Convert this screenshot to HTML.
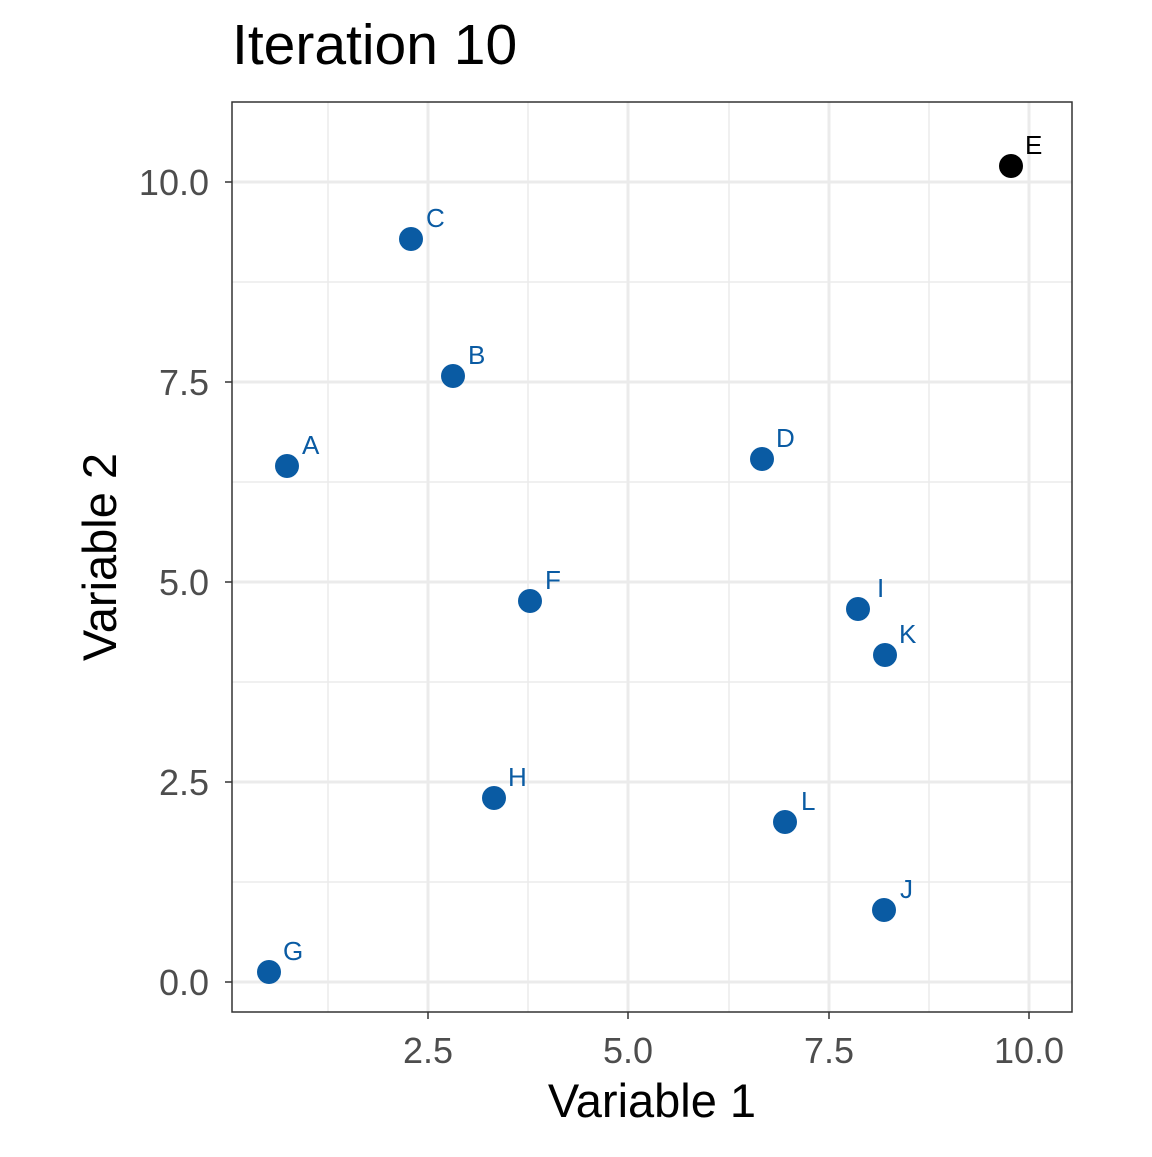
<!DOCTYPE html>
<html><head><style>body{margin:0;background:#fff}</style></head><body>
<svg width="1152" height="1152" xmlns="http://www.w3.org/2000/svg" font-family="Liberation Sans, Arial, sans-serif">
<rect width="1152" height="1152" fill="#fff"/>
<g stroke="#ebebeb" stroke-width="1.5">
<line x1="328" y1="102" x2="328" y2="1012"/><line x1="528" y1="102" x2="528" y2="1012"/><line x1="729" y1="102" x2="729" y2="1012"/><line x1="929" y1="102" x2="929" y2="1012"/>
<line x1="232" y1="282" x2="1072" y2="282"/><line x1="232" y1="482" x2="1072" y2="482"/><line x1="232" y1="682" x2="1072" y2="682"/><line x1="232" y1="882" x2="1072" y2="882"/>
</g>
<g stroke="#ebebeb" stroke-width="3">
<line x1="428" y1="102" x2="428" y2="1012"/><line x1="628" y1="102" x2="628" y2="1012"/><line x1="829" y1="102" x2="829" y2="1012"/><line x1="1029" y1="102" x2="1029" y2="1012"/>
<line x1="232" y1="182" x2="1072" y2="182"/><line x1="232" y1="382" x2="1072" y2="382"/><line x1="232" y1="582" x2="1072" y2="582"/><line x1="232" y1="782" x2="1072" y2="782"/><line x1="232" y1="982" x2="1072" y2="982"/>
</g>
<rect x="232" y="102" width="840" height="910" fill="none" stroke="#333" stroke-width="1.5"/>
<g stroke="#333" stroke-width="1.5">
<line x1="428" y1="1012" x2="428" y2="1019"/><line x1="628" y1="1012" x2="628" y2="1019"/><line x1="829" y1="1012" x2="829" y2="1019"/><line x1="1029" y1="1012" x2="1029" y2="1019"/>
<line x1="225" y1="182" x2="232" y2="182"/><line x1="225" y1="382" x2="232" y2="382"/><line x1="225" y1="582" x2="232" y2="582"/><line x1="225" y1="782" x2="232" y2="782"/><line x1="225" y1="982" x2="232" y2="982"/>
</g>
<g fill="#4d4d4d" font-size="36" text-anchor="middle">
<text x="428" y="1063">2.5</text><text x="628" y="1063">5.0</text><text x="829" y="1063">7.5</text><text x="1029" y="1063">10.0</text>
</g>
<g fill="#4d4d4d" font-size="36" text-anchor="end">
<text x="209" y="195">10.0</text><text x="209" y="395">7.5</text><text x="209" y="595">5.0</text><text x="209" y="795">2.5</text><text x="209" y="995">0.0</text>
</g>
<text x="652" y="1117" font-size="47" text-anchor="middle">Variable 1</text>
<text transform="translate(116,557) rotate(-90)" font-size="47" text-anchor="middle">Variable 2</text>
<text x="232" y="64" font-size="57">Iteration 10</text>
<g fill="#0A5BA3">
<circle cx="287" cy="466" r="12"/><circle cx="453" cy="376" r="12"/><circle cx="411" cy="239" r="12"/><circle cx="762" cy="459" r="12"/><circle cx="530" cy="601" r="12"/><circle cx="269" cy="972" r="12"/><circle cx="494" cy="798" r="12"/><circle cx="858" cy="609" r="12"/><circle cx="884" cy="910" r="12"/><circle cx="885" cy="655" r="12"/><circle cx="785" cy="822" r="12"/>
</g>
<g fill="#0A5BA3" font-size="26">
<text x="302" y="454">A</text><text x="468" y="364">B</text><text x="426" y="227">C</text><text x="776" y="447">D</text><text x="545" y="589">F</text><text x="283" y="960">G</text><text x="508" y="786">H</text><text x="877" y="597">I</text><text x="900" y="898">J</text><text x="899" y="643">K</text><text x="801" y="810">L</text>
</g>
<circle cx="1011" cy="166" r="12" fill="#000"/>
<text x="1025" y="154" font-size="26" fill="#000">E</text>
</svg>
</body></html>
